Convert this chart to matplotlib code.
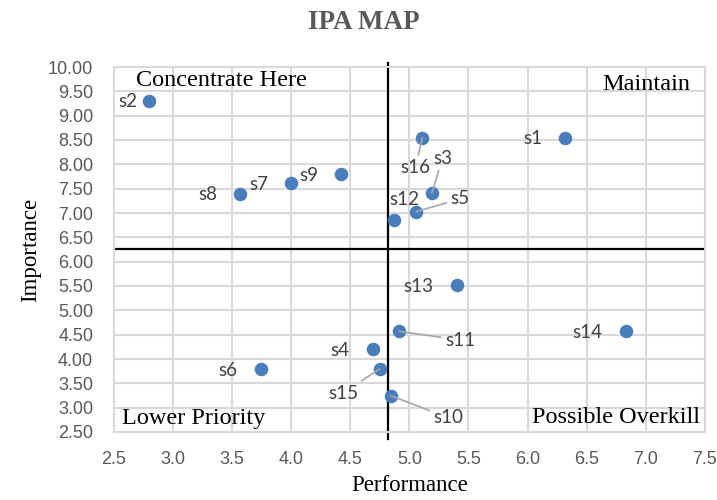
import matplotlib
matplotlib.use("Agg")
import matplotlib.pyplot as plt

# data
names = ["s1", "s2", "s3", "s4", "s5", "s6", "s7", "s8",
         "s9", "s10", "s11", "s12", "s13", "s14", "s15", "s16"]
performance = [6.32, 2.80, 5.19, 4.69, 5.06, 3.74, 4.00, 3.57,
               4.42, 4.84, 4.91, 4.87, 5.40, 6.83, 4.75, 5.11]
importance = [8.55, 9.30, 7.41, 4.20, 7.03, 3.80, 7.61, 7.40,
              7.80, 3.25, 4.57, 6.85, 5.52, 4.57, 3.80, 8.55]
perf_cut = 4.82
imp_cut = 6.26

# labels with leader lines: name -> label position (data coords)
leader_pos = {
    "s16": (5.05, 7.93),
    "s3": (5.28, 8.13),
    "s5": (5.43, 7.29),
    "s11": (5.43, 4.39),
    "s10": (5.33, 2.79),
    "s15": (4.44, 3.30),
}
plain_pos = {"s12": (4.96, 7.27), "s2": (2.62, 9.30)}

quadrants = [("Concentrate Here", 2.69, 9.72, "left"),
             ("Maintain", 7.38, 9.65, "right"),
             ("Lower Priority", 2.57, 2.77, "left"),
             ("Possible Overkill", 7.46, 2.79, "right")]

serif = ["Liberation Serif", "DejaVu Serif"]
narrow = ["Liberation Sans Narrow", "Liberation Sans", "DejaVu Sans"]
lab_font = ["Lato", "DejaVu Sans"]

fig = plt.figure(figsize=(7.17, 5.0), dpi=100)
ax = fig.add_axes([0.159, 0.136, 0.824, 0.730])

ax.set_xlim(2.5, 7.5)
ax.set_ylim(2.5, 10.0)
ax.set_xticks([2.5 + 0.5 * i for i in range(11)])
ax.set_yticks([2.5 + 0.5 * i for i in range(16)])
ax.set_xticklabels(["%.1f" % v for v in ax.get_xticks()])
ax.set_yticklabels(["%.2f" % v for v in ax.get_yticks()])
ax.grid(True, color="#d9d9d9", linewidth=1.5)
ax.set_axisbelow(True)
for sp in ax.spines.values():
    sp.set_color("#d9d9d9")
    sp.set_linewidth(1.5)
ax.tick_params(length=0, colors="#595959", labelsize=13)
ax.tick_params(axis="y", pad=15)
ax.tick_params(axis="x", pad=14)
for t in ax.get_xticklabels() + ax.get_yticklabels():
    t.set_family(narrow)

# quadrant lines
ax.axvline(perf_cut, ymin=-0.02, ymax=1.01, color="black", lw=1.6,
           clip_on=False, zorder=2)
ax.axhline(imp_cut, xmin=0, xmax=1.0, color="black", lw=1.6, zorder=2)

ax.scatter(performance, importance, s=95, color="#4a7ebb", zorder=3,
           linewidths=0)

for n, x, y in zip(names, performance, importance):
    if n in leader_pos:
        ax.annotate(n, (x, y), xytext=leader_pos[n], ha="center", va="center",
                    fontsize=13.5, color="#404040", family=lab_font,
                    arrowprops=dict(arrowstyle="-", color="#a6a6a6", lw=1.2,
                                    shrinkA=1, shrinkB=0))
    elif n in plain_pos:
        ax.text(*plain_pos[n], n, ha="center", va="center", fontsize=13.5,
                color="#404040", family=lab_font)
    else:
        ax.annotate(n, (x, y), xytext=(-16.5, -1), textcoords="offset points",
                    ha="right", va="center", fontsize=13.5, color="#404040",
                    family=lab_font)

for txt, x, y, ha in quadrants:
    ax.text(x, y, txt, ha=ha, va="center", fontsize=17.5, family=serif,
            color="black")

ax.set_xlabel("Performance", fontsize=16.5, family=serif, labelpad=5)
ax.set_ylabel("Importance", fontsize=16.5, family=serif, labelpad=5)
fig.text(0.507, 0.955, "IPA MAP", ha="center", va="center", fontsize=19.5,
         fontweight="bold", family=serif, color="#595959")

fig.savefig("out.png", dpi=100)
